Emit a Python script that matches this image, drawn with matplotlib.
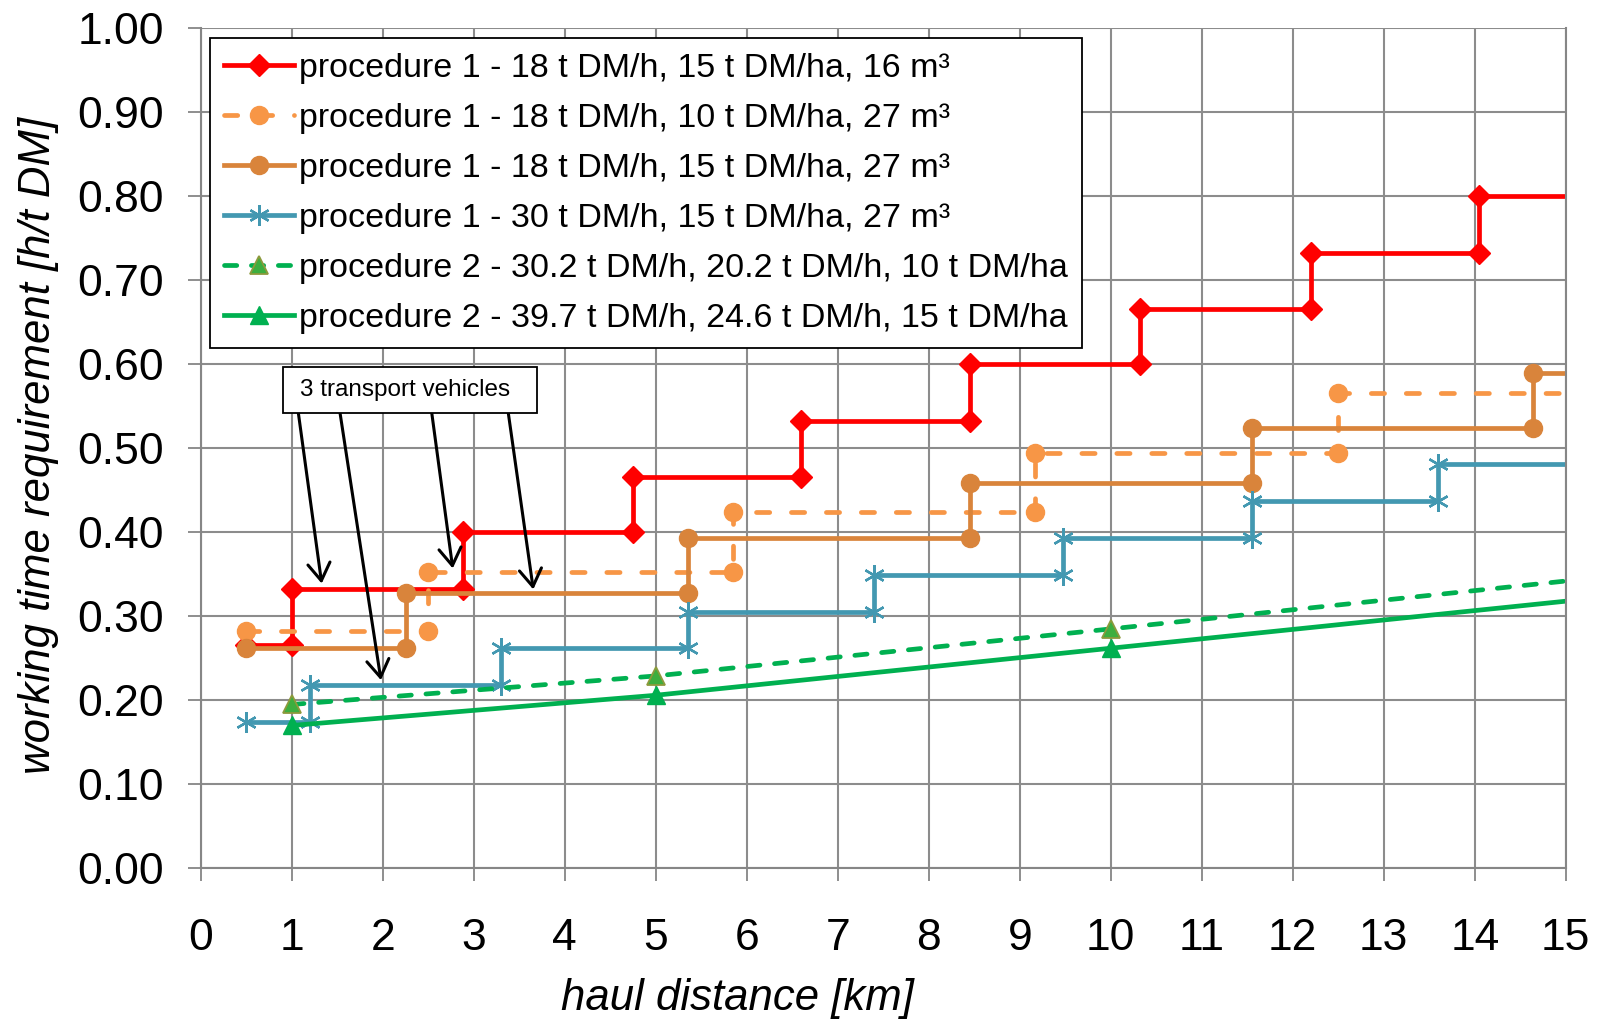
import matplotlib
matplotlib.use("Agg")
import matplotlib.pyplot as plt
from matplotlib.patches import Rectangle

plt.rcParams["font.family"] = ["Liberation Sans", "DejaVu Sans"]

# procedure 1 step curves: step positions (km) and levels (h/t DM)
red_steps = [1.0, 2.88, 4.75, 6.6, 8.45, 10.32, 12.2, 14.05]
red_levels = [0.266, 0.333, 0.400, 0.466, 0.533, 0.600, 0.666, 0.733, 0.800]

lorange_steps = [2.5, 5.85, 9.17, 12.5]
lorange_levels = [0.282, 0.353, 0.424, 0.495, 0.566]

dorange_steps = [2.25, 5.35, 8.45, 11.55, 14.64]
dorange_levels = [0.262, 0.328, 0.393, 0.459, 0.524, 0.590]

blue_steps = [1.2, 3.3, 5.35, 7.4, 9.47, 11.55, 13.6]
blue_levels = [0.174, 0.218, 0.262, 0.305, 0.349, 0.393, 0.437, 0.481]

x_start = 0.5
x_end = 15.0

# procedure 2 curves
p2_x = [1, 5, 10, 15]
p2_dashed = [0.195, 0.229, 0.285, 0.342]
p2_solid = [0.170, 0.206, 0.262, 0.318]

labels = [
    "procedure 1 - 18 t DM/h, 15 t DM/ha, 16 m³",
    "procedure 1 - 18 t DM/h, 10 t DM/ha, 27 m³",
    "procedure 1 - 18 t DM/h, 15 t DM/ha, 27 m³",
    "procedure 1 - 30 t DM/h, 15 t DM/ha, 27 m³",
    "procedure 2 - 30.2 t DM/h, 20.2 t DM/h, 10 t DM/ha",
    "procedure 2 - 39.7 t DM/h, 24.6 t DM/h, 15 t DM/ha",
]

# annotation: text, arrow tails and heads (data coords)
note_text = "3 transport vehicles"
arrow_tails = [(1.072, 0.5424), (1.530, 0.5424), (2.538, 0.5424), (3.379, 0.5424)]
arrow_heads = [(1.329, 0.339), (1.980, 0.224), (2.769, 0.357), (3.654, 0.332)]


def build_steps(steps, levels):
    xs = [x_start]
    ys = [levels[0]]
    for i, s in enumerate(steps):
        xs += [s, s]
        ys += [levels[i], levels[i + 1]]
    xs.append(x_end)
    ys.append(levels[-1])
    return xs, ys


fig = plt.figure(figsize=(16.01, 10.22), dpi=100)
ax = fig.add_axes([0.1254, 0.1504, 0.978 - 0.1254, 0.9723 - 0.1504])

lw = 3.4
dash_l = (0, (2.8, 4.6))
dash_g = (0, (2.6, 3.1))

xs, ys = build_steps(red_steps, red_levels)
ax.plot(xs, ys, color="#FF0000", lw=lw, marker="D", ms=11,
        markevery=list(range(len(xs) - 1)), label=labels[0])

xs, ys = build_steps(lorange_steps, lorange_levels)
ax.plot(xs, ys, color="#F79646", lw=lw, ls=dash_l, dash_capstyle="round",
        marker="o", ms=13, markevery=list(range(len(xs) - 1)), label=labels[1])

xs, ys = build_steps(dorange_steps, dorange_levels)
ax.plot(xs, ys, color="#D9843B", lw=lw, marker="o", ms=13,
        markevery=list(range(len(xs) - 1)), label=labels[2])

xs, ys = build_steps(blue_steps, blue_levels)
ax.plot(xs, ys, color="#4398B1", lw=lw, marker=(6, 2, 0), ms=15, mew=1.7,
        markevery=list(range(len(xs) - 1)), label=labels[3])

ax.plot(p2_x, p2_dashed, color="#00B050", lw=lw, ls=dash_g, dash_capstyle="round",
        marker="^", ms=13, mfc="#3DAE3F", mec="#8C9A3C", mew=1.3,
        markevery=[0, 1, 2], label=labels[4])
ax.plot(p2_x, p2_solid, color="#00B050", lw=lw, marker="^", ms=13,
        markevery=[0, 1, 2], label=labels[5])

ax.set_xlim(0, 15)
ax.set_ylim(0, 1.0)
ax.set_xticks(range(0, 16))
ax.set_yticks([i / 10 for i in range(11)])
ax.set_yticklabels([f"{i / 10:.2f}" for i in range(11)])
ax.tick_params(axis="both", labelsize=32, length=9.5, width=1.3, color="#868686")
ax.tick_params(axis="x", pad=26)
ax.tick_params(axis="y", pad=17)
ax.grid(True, color="#8C8C8C", lw=1.5)
ax.set_axisbelow(True)
ax.spines["top"].set_visible(False)
for side in ["left", "bottom", "right"]:
    ax.spines[side].set_color("#868686")
    ax.spines[side].set_linewidth(1.5)

ax.set_xlabel("haul distance [km]", fontsize=31.5, style="italic")
ax.xaxis.set_label_coords(5.9 / 15, -0.131)
ax.set_ylabel("working time requirement [h/t DM]", fontsize=31.5, style="italic")
ax.yaxis.set_label_coords(-0.104, 0.503)

leg = ax.legend(loc="upper left", bbox_to_anchor=(0.0068, 0.988), fontsize=24.5,
                frameon=True, fancybox=False, edgecolor="black", framealpha=1,
                handlelength=2.05, handletextpad=0.15, labelspacing=0.56,
                borderpad=0.42, borderaxespad=0)
leg.get_frame().set_linewidth(1.3)

for tail, head in zip(arrow_tails, arrow_heads):
    ax.annotate("", xy=head, xytext=tail,
                arrowprops=dict(arrowstyle="->,head_length=0.5,head_width=0.32",
                                color="black", lw=2.2, mutation_scale=25,
                                shrinkA=0, shrinkB=0))

# annotation box
ax.add_patch(Rectangle((0.907, 0.5424), 3.70 - 0.907, 0.5964 - 0.5424,
                       fc="white", ec="black", lw=1.3, zorder=5))
ax.text(2.24, 0.5694, note_text, fontsize=17.5, ha="center", va="center", zorder=6)

fig.savefig("out.png", dpi=100)
